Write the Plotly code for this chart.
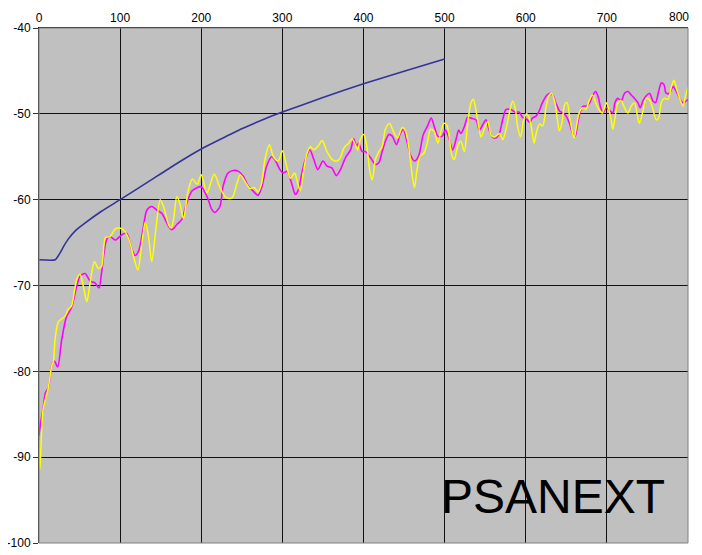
import plotly.graph_objects as go

# ---- data ----
limit_x = [0, 20, 26, 30, 36, 45, 57, 77, 100, 135, 168, 200, 223, 250, 278, 300, 350, 400, 450, 500]
limit_y = [-67, -67, -66.2, -65.5, -64.6, -63.6, -62.7, -61.35, -60, -57.9, -55.9, -54.1, -53.0, -51.75,
           -50.6, -49.8, -48.1, -46.5, -45.05, -43.6]

yellow_x = [0, 1.2, 5, 11.5, 15.6, 17.7, 19.8, 24, 32, 36, 40, 46.5, 50.6, 54.7, 59, 63, 68.3, 73, 77, 82,
            87.6, 94, 98.8, 104, 110.3, 116.5, 121.8, 126.8, 131, 135, 139, 144, 149.4, 153.5, 159.7, 163,
            165.8, 170, 174, 178, 184, 189, 195, 200, 207, 216, 223, 231, 238, 244, 248, 254, 260, 265.5,
            270, 274.4, 278.5, 284, 289, 295, 300, 305.8, 310, 315, 319, 322, 326.4, 330.4, 334.6, 338.7,
            343.7, 349, 355, 361, 367.5, 371.6, 375.7, 381.8, 386, 389, 393, 396, 400.4, 403.7, 407.8,
            410.7, 414.8, 418.9, 423, 427, 432, 437.5, 442, 447.7, 451.8, 456, 460, 462.9, 466, 470, 474.5,
            478.6, 482.7, 486.8, 491.7, 495, 499, 502.5, 505, 509, 512, 516, 520, 524.3, 528.4, 532.5,
            535.4, 538.7, 542, 545, 549, 553.3, 557.4, 561.5, 567.7, 571.8, 575.9, 580, 584, 587.5, 590,
            593.6, 597.2, 601, 604, 607.4, 610.3, 613, 617, 621, 625, 628.4, 631.5, 635.6, 638.5, 641.5,
            644.7, 648, 651, 654, 656.8, 659.7, 662.6, 665.8, 670, 674, 678, 682.2, 686.2, 690.3, 694.4,
            699.4, 704.5, 707.4, 710, 713.6, 717.7, 721.8, 726, 730, 734, 737.4, 740, 744.4, 748.5, 752.6,
            756.8, 760.9, 763.8, 767, 770.4, 775.3, 779.4, 782.7, 786, 789.7, 793.8, 796.7, 800]
yellow_y = [-88, -91.4, -84.5, -81.9, -79.4, -78.9, -76.3, -74.2, -73.6, -72.8, -72.4, -69.3, -68.7, -70.1,
            -71.9, -69.7, -67.2, -68.0, -67.8, -64.4, -64.3, -63.4, -63.3, -63.5, -64.5, -66.6, -68.2,
            -65.1, -62.6, -64.3, -67.2, -63.5, -60.0, -60.8, -62.9, -63.3, -62.3, -59.6, -60.6, -62.2,
            -58.9, -57.6, -58.2, -57.1, -59.2, -57.0, -58.6, -59.8, -59.8, -58.1, -57.1, -57.9, -58.7,
            -58.6, -59.1, -58.1, -55.3, -53.6, -55.0, -55.5, -54.3, -56.3, -57.5, -56.9, -58.1, -59.0,
            -56.5, -54.6, -53.8, -54.2, -53.8, -53.1, -54.4, -55.3, -55.5, -55.1, -54.0, -53.4, -52.9,
            -53.4, -54.2, -53.0, -52.4, -53.5, -56.7, -57.7, -55.3, -54.4, -53.8, -51.8, -51.1, -52.2,
            -52.8, -51.6, -52.0, -54.0, -57.1, -58.6, -56.5, -54.9, -54.6, -53.4, -51.8, -52.0, -53.4,
            -52.2, -51.1, -51.3, -52.2, -54.9, -55.3, -53.8, -53.2, -54.4, -51.1, -48.7, -48.3, -49.6,
            -51.5, -52.7, -51.7, -50.9, -52.5, -52.7, -52.3, -53.0, -51.7, -49.8, -48.5, -49.6, -51.5,
            -52.7, -50.8, -50.0, -50.4, -51.8, -53.4, -52.2, -51.2, -51.4, -49.2, -47.9, -47.6, -48.5,
            -50.3, -52.0, -51.0, -48.9, -48.7, -50.3, -51.8, -52.8, -51.4, -49.9, -49.3, -49.5, -48.5,
            -47.8, -48.7, -49.5, -49.9, -48.7, -50.3, -51.8, -50.5, -48.7, -48.5, -49.3, -49.9, -49.1,
            -48.7, -50.1, -51.1, -49.7, -48.2, -48.4, -49.5, -50.7, -50.5, -48.7, -48.2, -48.3, -46.9,
            -46.1, -47.1, -48.2, -49.1, -48.0, -46.9]

magenta_x = [0, 2, 5, 8, 11.5, 15.6, 19, 23, 28, 34, 40, 46.5, 50.6, 56.8, 63, 69, 74, 77, 83.5, 87.6,
             94, 102, 108, 114.4, 118.5, 123.4, 128.8, 133, 139, 145, 151.4, 155.5, 159.7, 163.8, 170,
             176, 182, 188.5, 194.6, 200, 207.8, 212.8, 216.8, 223, 227, 233, 239.5, 246, 252, 258, 264,
             270, 275, 280.6, 286.8, 291.7, 297, 301, 305.8, 312, 316, 320, 324, 328.4, 333.8, 338.7,
             343.7, 350, 355, 361, 366.6, 371.6, 377.8, 384, 388, 391.4, 394, 398.3, 402.5, 408.6, 414.8,
             418.9, 423, 427, 431.3, 435.4, 440.7, 444.9, 449, 453, 458, 462.9, 468, 473.7, 478.6, 483.5,
             487.6, 491.7, 497, 501, 505.8, 509.9, 514, 517.3, 520, 524.3, 528.4, 532.5, 538.7, 542.8,
             546.9, 551, 555, 559, 563.3, 567.4, 571.5, 575.6, 581.7, 587, 592, 596, 601, 605, 608.2,
             612.3, 616.4, 620.6, 625.5, 629.6, 633.7, 637.8, 641.9, 646, 650, 653.5, 657.6, 661, 663.6,
             666.7, 670.8, 674.9, 679, 682.2, 686.2, 689.5, 692.4, 695.2, 699.4, 704.5, 707.4, 710, 713.6,
             717.7, 721.8, 726, 730, 734, 738.3, 741, 744.4, 748.5, 752.6, 756.8, 760, 763.8, 767, 770.4,
             773, 777.4, 781.5, 785.6, 789.7, 793.8, 798, 800]
magenta_y = [-87.5, -86, -84.4, -82.5, -81.9, -79.4, -78.8, -79.5, -76.3, -73.6, -72.6, -70.1, -68.9,
             -68.6, -69.5, -69.7, -70.3, -68.6, -64.6, -64.3, -64.7, -64.1, -63.9, -65.8, -66.5, -65.8,
             -63.1, -61.2, -60.8, -61.2, -61.6, -62.3, -63.1, -63.5, -62.9, -62.3, -60.4, -59.0, -58.6,
             -58.5, -59.8, -61.1, -61.5, -60.8, -58.4, -56.9, -56.6, -56.7, -57.3, -58.4, -59.0, -59.5,
             -58.4, -56.1, -55.0, -55.5, -56.5, -56.9, -56.7, -58.3, -59.4, -58.8, -56.9, -55.3, -54.2,
             -55.3, -56.5, -55.5, -56.1, -56.3, -57.2, -56.5, -55.1, -54.2, -52.9, -53.8, -53.4, -54.4,
             -54.4, -55.1, -55.9, -55.7, -54.4, -53.2, -52.4, -52.6, -53.6, -52.4, -51.8, -53.0, -54.8,
             -55.5, -54.9, -52.4, -51.5, -50.5, -51.6, -52.6, -52.6, -51.9, -53.0, -54.2, -53.0, -51.9,
             -52.3, -51.5, -50.4, -50.5, -50.7, -51.9, -51.3, -50.7, -51.9, -52.7, -52.8, -52.3, -50.7,
             -49.5, -49.5, -49.8, -49.8, -50.4, -50.6, -51.0, -50.5, -50.3, -49.7, -48.7, -47.9, -47.6,
             -47.9, -48.9, -49.7, -49.9, -50.3, -51.0, -52.2, -52.6, -51.4, -49.9, -49.1, -49.1, -48.7,
             -47.9, -47.4, -48.1, -49.3, -49.9, -49.3, -49.7, -49.9, -48.7, -48.2, -48.5, -47.6, -47.4,
             -47.8, -48.2, -48.7, -49.3, -48.5, -47.9, -47.6, -48.5, -48.7, -47.4, -46.4, -46.6, -47.6,
             -47.6, -46.8, -47.4, -48.2, -48.7, -48.5, -48.3]

x_ticks = [0, 100, 200, 300, 400, 500, 600, 700, 800]
y_ticks = [-40, -50, -60, -70, -80, -90, -100]
label_text = "PSANEXT"

FONT = "Liberation Sans, Arial, sans-serif"

fig = go.Figure()
fig.add_trace(go.Scatter(x=limit_x, y=limit_y, mode="lines",
                         line=dict(color="#333399", width=1.6, shape="spline", smoothing=0.5),
                         showlegend=False))
fig.add_trace(go.Scatter(x=magenta_x, y=magenta_y, mode="lines",
                         line=dict(color="#FF00FF", width=1.6, shape="spline", smoothing=0.8),
                         showlegend=False))
fig.add_trace(go.Scatter(x=yellow_x, y=yellow_y, mode="lines",
                         line=dict(color="#FFFF00", width=1.5, shape="spline", smoothing=0.8),
                         showlegend=False))

fig.add_annotation(x=634, y=-94.6, xref="x", yref="y", text=label_text, showarrow=False,
                   font=dict(family=FONT, size=48, color="black"),
                   xanchor="center", yanchor="middle")

# last x tick label sits just inside the plot's right edge, as in the reference
fig.add_annotation(x=x_ticks[-1], y=1, xref="x", yref="paper", text=str(x_ticks[-1]),
                   showarrow=False, xanchor="center", yanchor="bottom", xshift=-9, yshift=2,
                   font=dict(family=FONT, size=12, color="black"))

fig.add_shape(type="rect", xref="paper", yref="paper", x0=0, y0=0, x1=1, y1=1,
              line=dict(color="#808080", width=1), layer="above")

# page places the figure ~8px in from the top-left corner, so size/margins compensate
fig.update_layout(
    width=694, height=547,
    margin=dict(l=31, r=14, t=20, b=12, autoexpand=False),
    paper_bgcolor="white",
    plot_bgcolor="#C0C0C0",
    font=dict(family=FONT, size=12, color="black"),
    showlegend=False,
    xaxis=dict(range=[0, 800], side="top", tickvals=x_ticks,
               ticktext=[str(v) for v in x_ticks[:-1]] + [""],
               showgrid=True, gridcolor="#111111", gridwidth=1, zeroline=False, automargin=False,
               showline=True, linecolor="#111111", linewidth=1, ticks="", fixedrange=True),
    yaxis=dict(range=[-100, -40], tickvals=y_ticks, ticktext=[str(v) for v in y_ticks],
               showgrid=True, gridcolor="#111111", gridwidth=1, zeroline=False, automargin=False,
               showline=True, linecolor="#333333", linewidth=1,
               ticks="outside", ticklen=5, tickcolor="#333333", fixedrange=True),
)

fig.write_html("out.html")
